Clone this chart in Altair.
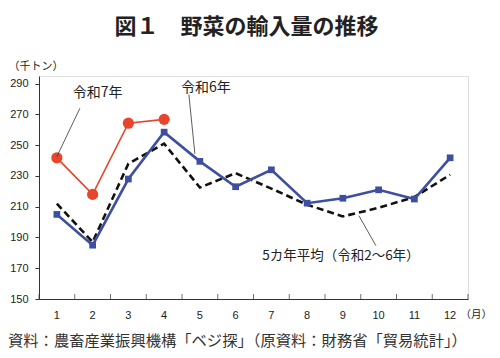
import altair as alt
import pandas as pd

# ---- data ----
months = list(range(1, 13))
r6_values = [205, 185, 228, 258.5, 239.5, 223, 234, 212.3, 215.5, 221, 215, 241.8]
avg_values = [212, 187, 238, 251, 222.5, 231.8, 221.8, 211.3, 203.7, 209.3, 216.3, 230.8]
r7_months = [1, 2, 3, 4]
r7_values = [241.8, 218, 264.3, 266.8]

y_ticks = [150, 170, 190, 210, 230, 250, 270, 290]

title_text = "図１　野菜の輸入量の推移"
source_text = "資料：農畜産業振興機構「ベジ探」（原資料：財務省「貿易統計」）"
ann_labels = ["令和7年", "令和6年", "5カ年平均（令和2～6年）"]
ann_months = [2, 5, 9]
ann_values = [284, 287, 178.2]
ann_dx = [5, 6, -2]
ann_size = [14, 14, 13.5]
lead_months = [1, 5, 9]
lead_y1 = [274, 283, 204.2]
lead_y2 = [242.6, 244.4, 184.7]
lead_off = [(23, 0), (-11, -5), (16, 33)]

JP = "Noto Sans CJK JP"
LAT = "Liberation Sans"

W, H = 429, 223

df6 = pd.DataFrame({"month": months, "value": r6_values})
dfa = pd.DataFrame({"month": months, "value": avg_values})
df7 = pd.DataFrame({"month": r7_months, "value": r7_values})

xscale = alt.Scale(type="band", domain=months, paddingInner=0, paddingOuter=0)
yscale = alt.Scale(domain=[150, 295], nice=False, zero=False)

xaxis = alt.Axis(
    title="（月）", titleFont=JP, titleFontSize=10.5, titleFontWeight="normal",
    titleAngle=0, titleAlign="left", titleBaseline="middle", titleX=421, titleY=15,
    titleColor="#222", labelAngle=0, labelFont=LAT, labelFontSize=11, labelColor="#222",
    labelPadding=10, ticks=False, domainColor="#333", grid=False,
)
yaxis = alt.Axis(
    title="（千トン）", titleFont=JP, titleFontSize=11, titleFontWeight="normal",
    titleAngle=0, titleAlign="left", titleBaseline="middle", titleX=-31, titleY=-10,
    titleColor="#222", values=y_ticks, labelFont=LAT, labelFontSize=11, labelColor="#222",
    labelOverlap=False, labelFlush=False,
    labelPadding=7, tickSize=4, tickColor="#333", domainColor="#333", grid=False,
)


def X(band=0.5):
    return alt.X("month:O", scale=xscale, axis=xaxis, bandPosition=band)


Y = alt.Y("value:Q", scale=yscale, axis=yaxis)

avg_line = alt.Chart(dfa).mark_line(
    color="#111", strokeWidth=2.6, strokeDash=[7, 4]
).encode(x=X(), y=Y)

r6_line = alt.Chart(df6).mark_line(
    color="#3d4f9e", strokeWidth=2.6,
    point=alt.OverlayMarkDef(shape="square", size=45, color="#3d4f9e", filled=True),
).encode(x=X(), y=Y)

r7_line = alt.Chart(df7).mark_line(
    color="#e8462c", strokeWidth=1.6,
    point=alt.OverlayMarkDef(shape="circle", size=125, color="#e8462c", filled=True, opacity=1),
).encode(x=X(), y=Y)

# upward x-axis ticks at band boundaries
tick_df = pd.DataFrame({"month": months})
ticks_start = alt.Chart(tick_df).mark_tick(
    orient="vertical", size=5, thickness=1, color="#333", yOffset=-2.5
).encode(x=X(0), y=alt.value(H))
ticks_end = alt.Chart(pd.DataFrame({"month": [months[-1]]})).mark_tick(
    orient="vertical", size=5, thickness=1, color="#333", yOffset=-2.5
).encode(x=X(1), y=alt.value(H))

layers = [avg_line, r6_line, r7_line, ticks_start, ticks_end]

for m, y1, y2, (o1, o2) in zip(lead_months, lead_y1, lead_y2, lead_off):
    d = pd.DataFrame({"month": [m], "value": [y1], "y2": [y2]})
    layers.append(
        alt.Chart(d).mark_rule(color="#333", strokeWidth=0.8, xOffset=o1, x2Offset=o2).encode(
            x=X(),
            x2=alt.X2("month"),
            y=Y,
            y2=alt.Y2("y2"),
        )
    )

for lab, m, v, dx, fs in zip(ann_labels, ann_months, ann_values, ann_dx, ann_size):
    d = pd.DataFrame({"month": [m], "value": [v], "label": [lab]})
    layers.append(
        alt.Chart(d).mark_text(font=JP, fontSize=fs, color="#222", dx=dx, align="center", baseline="middle").encode(
            x=X(), y=Y, text="label:N",
        )
    )

title_df = pd.DataFrame({"t": [title_text]})
layers.append(
    alt.Chart(title_df).mark_text(font=JP, fontSize=22, fontWeight="bold", color="#222",
                                  align="center", baseline="middle").encode(
        x=alt.value(W / 2 - 7), y=alt.value(-49), text="t:N")
)
src_df = pd.DataFrame({"t": [source_text]})
layers.append(
    alt.Chart(src_df).mark_text(font=JP, fontSize=15.3, color="#333",
                                align="left", baseline="middle").encode(
        x=alt.value(-31), y=alt.value(H + 42), text="t:N")
)

chart = alt.layer(*layers).properties(
    width=W, height=H,
    autosize=alt.AutoSizeParams(type="none"),
    padding={"left": 31, "top": 68, "right": 24, "bottom": 50},
).configure_view(stroke=None).configure(background="white")

chart.save("out.html", embed_options={"renderer": "svg", "actions": False})
